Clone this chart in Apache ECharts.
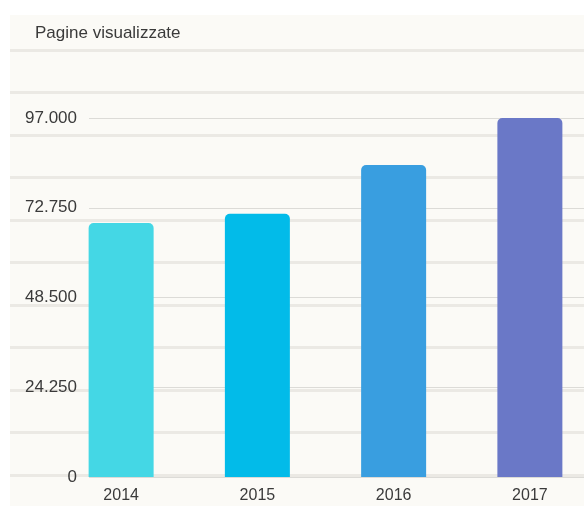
<!DOCTYPE html>
<html>
<head>
<meta charset="utf-8">
<script src="https://cdn.jsdelivr.net/npm/echarts@6/dist/echarts.min.js"></script>
<style>
  html, body { margin: 0; padding: 0; background: #ffffff; overflow: hidden; width: 584px; height: 506px; }
  #paper { position: absolute; left: 10px; top: 15px; width: 574px; height: 491px; background: #fbfaf6; }
  #chart { position: absolute; left: 0; top: 0; width: 600px; height: 506px; }
</style>
</head>
<body>
<div id="paper"></div>
<div id="chart"></div>
<script>
const categories = ['2014', '2015', '2016', '2017'];
const values = [68600, 71100, 84300, 97000];
const barColors = ['#44d7e5', '#02bbe9', '#399ee0', '#6a78c7'];
const yTicks = [0, 24250, 48500, 72750, 97000];
const titleText = 'Pagine visualizzate';
const stripeTicks = [0, 1, 2, 3, 4, 5, 6, 7, 8, 9, 10];

function fmt(v) {
  return String(v).replace(/\B(?=(\d{3})+(?!\d))/g, '.');
}

const chart = echarts.init(document.getElementById('chart'), null, { renderer: 'canvas' });
const font = 'Liberation Sans, Arial, sans-serif';
const option = {
  backgroundColor: 'transparent',
  animation: false,
  title: {
    text: titleText,
    left: 30,
    top: 20,
    textStyle: { fontFamily: font, fontSize: 17, fontWeight: 'normal', color: '#3a3a3a' }
  },
  grid: [
    { left: 53, right: 2, top: 118, bottom: 29 },
    { left: 89, right: 16, top: 118, bottom: 29 },
    { left: 10, right: 16, top: 50, bottom: 31 }
  ],
  xAxis: [
    {
      gridIndex: 0, type: 'category', data: categories,
      axisLine: { show: false }, axisTick: { show: false },
      axisLabel: { fontFamily: font, fontSize: 16, color: '#3a3a3a', margin: 11 }
    },
    { gridIndex: 1, type: 'value', show: false },
    { gridIndex: 2, type: 'value', show: false }
  ],
  yAxis: [
    {
      gridIndex: 0, type: 'value', min: yTicks[0], max: yTicks[yTicks.length - 1], interval: yTicks[1] - yTicks[0],
      show: false
    },
    {
      gridIndex: 1, type: 'value', min: yTicks[0], max: yTicks[yTicks.length - 1], interval: yTicks[1] - yTicks[0],
      axisLine: { show: false }, axisTick: { show: false },
      axisLabel: { fontFamily: font, fontSize: 17, color: '#3a3a3a', margin: 12, formatter: fmt },
      splitLine: { show: true, lineStyle: { color: '#dcdbd7', width: 1 } }
    },
    {
      gridIndex: 2, type: 'value', min: stripeTicks[0], max: stripeTicks[stripeTicks.length - 1], interval: 1,
      axisLine: { show: false }, axisTick: { show: false }, axisLabel: { show: false },
      splitLine: { show: true, lineStyle: { color: '#ebe9e4', width: 3 } }
    }
  ],
  series: [
    {
      type: 'bar',
      xAxisIndex: 0, yAxisIndex: 0,
      barWidth: 65,
      z: 5,
      data: values.map((v, i) => ({
        value: v,
        itemStyle: { color: barColors[i], borderRadius: [5, 5, 0, 0] }
      }))
    }
  ]
};
chart.setOption(option);
</script>
</body>
</html>
